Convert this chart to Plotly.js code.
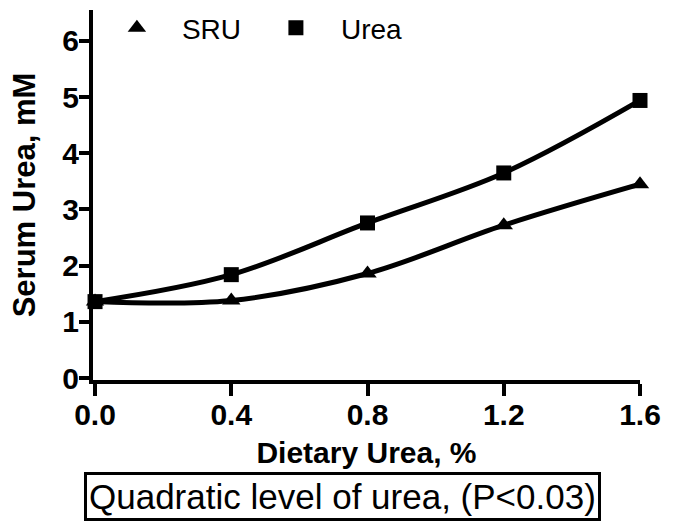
<!DOCTYPE html>
<html>
<head>
<meta charset="utf-8">
<script src="https://cdn.plot.ly/plotly-3.0.1.min.js"></script>
<style>
  html, body { margin: 0; padding: 0; background: #fff; }
  #chart { width: 673px; height: 527px; }
</style>
</head>
<body>
<div id="chart"></div>
<script>
// Dietary urea level (%) and serum urea (mM) for the two urea sources
const dietaryUrea = [0, 0.4, 0.8, 1.2, 1.6];
const sruSerum    = [1.36, 1.38, 1.86, 2.72, 3.45];
const ureaSerum   = [1.36, 1.84, 2.76, 3.65, 4.94];
const xTickVals   = [0, 0.4, 0.8, 1.2, 1.6];
const xTickText   = ['0.0', '0.4', '0.8', '1.2', '1.6'];
const yTickVals   = [0, 1, 2, 3, 4, 5, 6];

const FONT = 'Liberation Sans, Arial, Helvetica, sans-serif';

function curve(y) {
  return {
    x: dietaryUrea, y: y, type: 'scatter', mode: 'lines',
    line: { color: '#000', width: 5, shape: 'spline', smoothing: 1 },
    showlegend: false, hoverinfo: 'skip', cliponaxis: false
  };
}
function points(y, name, symbol, size) {
  return {
    x: dietaryUrea, y: y, type: 'scatter', mode: 'markers', name: name,
    marker: { color: '#000', symbol: symbol, size: size },
    cliponaxis: false
  };
}

const data = [
  curve(sruSerum),
  curve(ureaSerum),
  points(sruSerum, 'SRU', 'triangle-up', 16),
  points(ureaSerum, 'Urea', 'square', 15)
];

const layout = {
  width: 673, height: 527,
  margin: { l: 93, r: 33, t: 10, b: 147, autoexpand: false },
  paper_bgcolor: '#fff', plot_bgcolor: '#fff',
  font: { family: FONT, color: '#000' },
  showlegend: true,
  legend: {
    orientation: 'h', x: -0.002, y: 0.951, xanchor: 'left', yanchor: 'middle',
    font: { family: FONT, size: 28, color: '#000' },
    itemwidth: 80, entrywidth: 64, bgcolor: 'rgba(0,0,0,0)'
  },
  xaxis: {
    range: [-0.006, 1.6], showgrid: false, zeroline: false,
    showline: true, linecolor: '#000', linewidth: 4,
    ticks: 'outside', ticklen: 12, tickwidth: 4, tickcolor: '#000',
    tickvals: xTickVals, ticktext: xTickText, ticklabelstandoff: -7,
    tickfont: { family: FONT, size: 30, weight: 'bold' },
    title: { text: '<b>Dietary Urea, %</b>', font: { family: FONT, size: 30 }, standoff: 13 }
  },
  yaxis: {
    range: [-0.035, 6.55], showgrid: false, zeroline: false,
    showline: true, linecolor: '#000', linewidth: 4,
    ticks: 'outside', ticklen: 10, tickwidth: 4, tickcolor: '#000',
    tickvals: yTickVals, ticklabelstandoff: -6,
    tickfont: { family: FONT, size: 30, weight: 'bold' },
    title: { text: '<b>Serum Urea, mM</b>', font: { family: FONT, size: 31 }, standoff: 18 }
  },
  annotations: [{
    xref: 'paper', yref: 'paper', x: 0.457, y: -0.315,
    xanchor: 'center', yanchor: 'middle', showarrow: false,
    text: 'Quadratic level of urea, (P<0.03)',
    font: { family: FONT, size: 35, color: '#000' },
    bordercolor: '#000', borderwidth: 3, borderpad: 2, bgcolor: '#fff'
  }]
};

Plotly.newPlot('chart', data, layout, { displayModeBar: false, staticPlot: true });
</script>
</body>
</html>
